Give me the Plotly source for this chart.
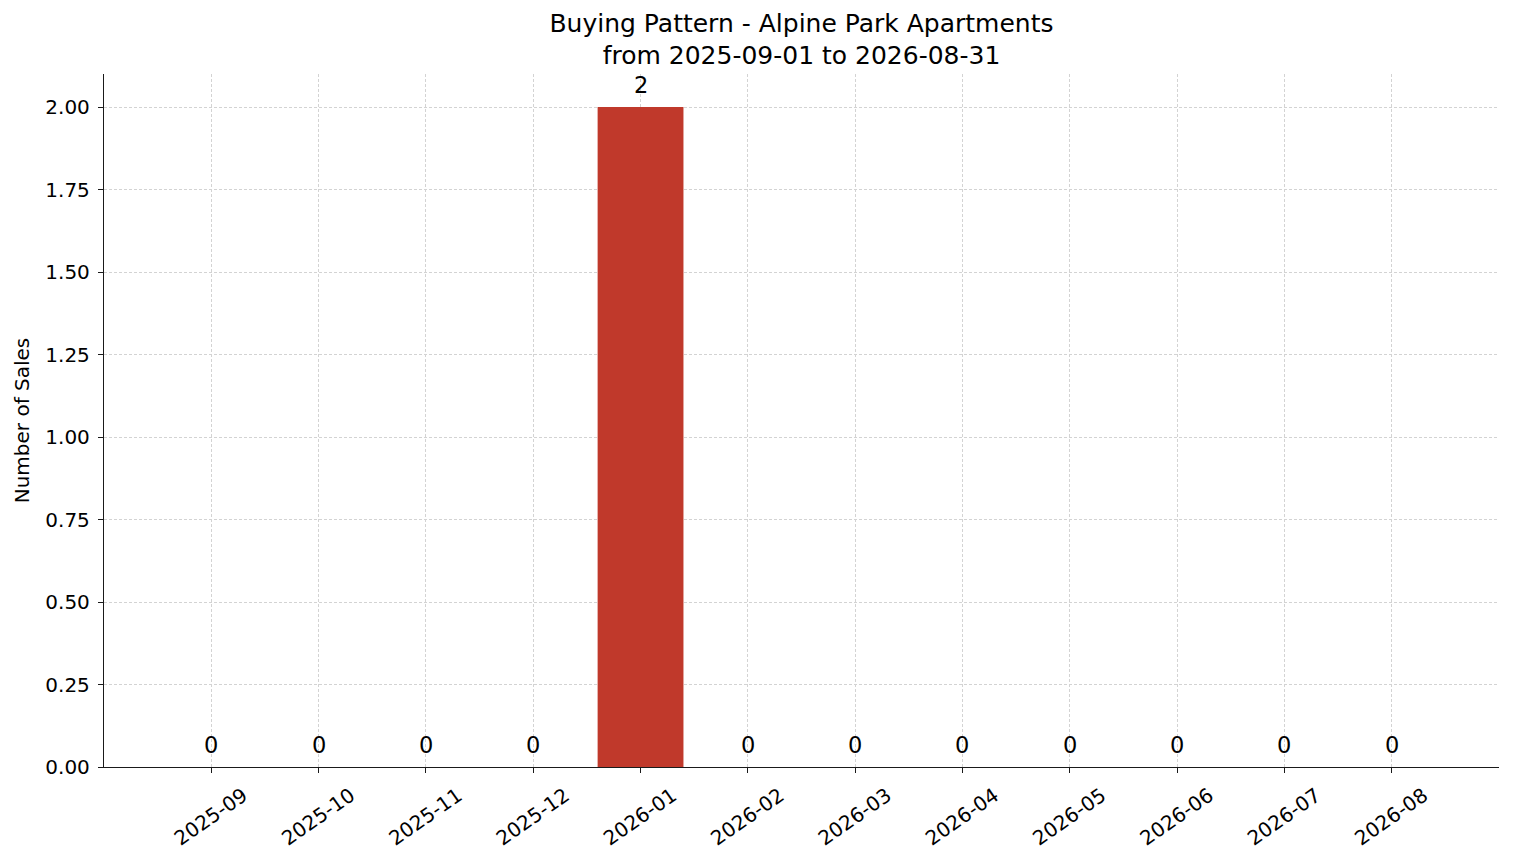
import plotly.graph_objects as go

months = ["2025-09", "2025-10", "2025-11", "2025-12", "2026-01", "2026-02",
          "2026-03", "2026-04", "2026-05", "2026-06", "2026-07", "2026-08"]
sales = [0, 0, 0, 0, 2, 0, 0, 0, 0, 0, 0, 0]
y_ticks = [0, 0.25, 0.5, 0.75, 1.0, 1.25, 1.5, 1.75, 2.0]

x_idx = list(range(len(months)))
FONT = "DejaVu Sans"

fig = go.Figure()
fig.add_trace(go.Bar(
    x=x_idx, y=sales, width=0.8,
    marker=dict(color="#c0392b", line=dict(width=0)),
    hoverinfo="x+y",
))

for i, v in zip(x_idx, sales):
    fig.add_annotation(x=i, y=v, text=str(v), showarrow=False,
                       xanchor="center", yanchor="bottom", yshift=7,
                       font=dict(size=22.5, color="black", family=FONT))

axis_common = dict(
    showline=True, linecolor="#1a1a1a", linewidth=1.3,
    ticks="outside", ticklen=5, tickwidth=1.2, tickcolor="#1a1a1a",
    showgrid=True, gridcolor="#d3d3d3", griddash="3px,2px", gridwidth=0.8,
    zeroline=False, mirror=False,
    tickfont=dict(size=20, color="black", family=FONT),
)

# page body has an 8px default margin, so offsets compensate for it
fig.update_layout(
    width=1506, height=855,
    paper_bgcolor="white", plot_bgcolor="white",
    font=dict(family=FONT, color="black"),
    title=dict(text="Buying Pattern - Alpine Park Apartments<br>from 2025-09-01 to 2026-08-31",
               x=0.5, xanchor="center", xref="paper", yref="container",
               y=0.972, yanchor="middle",
               font=dict(size=25, family=FONT)),
    margin=dict(l=96, r=15, t=66, b=96),
    showlegend=False,
)
fig.update_xaxes(**axis_common, tickmode="array", tickvals=x_idx, ticktext=months,
                 tickangle=-35, range=[-1, 12], ticklabelshift=32, ticklabelstandoff=3)
fig.update_yaxes(**axis_common, tickmode="array", tickvals=y_ticks,
                 ticktext=[f"{v:.2f}" for v in y_ticks], range=[0, 2.1],
                 ticklabelstandoff=4,
                 title=dict(text="Number of Sales", font=dict(size=20, family=FONT), standoff=10))

fig.write_html("out.html")
